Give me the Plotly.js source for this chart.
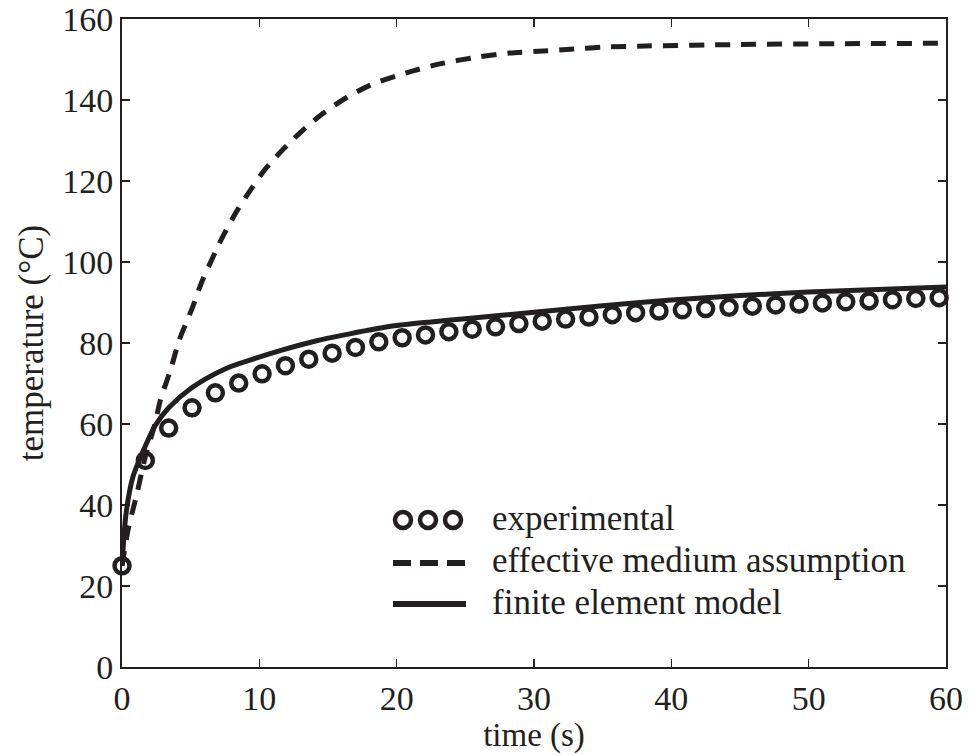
<!DOCTYPE html>
<html>
<head>
<meta charset="utf-8">
<script src="https://cdn.plot.ly/plotly-3.0.1.min.js"></script>
<style>html,body{margin:0;padding:0;background:#fff;}#chart{width:972px;height:755px;}</style>
</head>
<body>
<div id="chart"></div>
<script>
// Experimental data
const expTime = [0, 1.7, 3.4, 5.1, 6.8, 8.5, 10.2, 11.9, 13.6, 15.3, 17.0, 18.7, 20.4, 22.1, 23.8, 25.5, 27.2, 28.9, 30.6, 32.3, 34.0, 35.7, 37.4, 39.1, 40.8, 42.5, 44.2, 45.9, 47.6, 49.3, 51.0, 52.7, 54.4, 56.1, 57.8, 59.5];
const expTemp = [25, 51, 59, 64, 67.7, 70.1, 72.4, 74.4, 76.0, 77.5, 78.9, 80.3, 81.3, 82.0, 82.8, 83.4, 84.0, 84.8, 85.4, 85.9, 86.4, 87.0, 87.5, 87.9, 88.2, 88.5, 88.8, 89.1, 89.4, 89.6, 89.9, 90.2, 90.4, 90.7, 91.0, 91.2];

// Effective medium assumption
const emaTime = [0, 0.45, 1.1, 1.7, 2.4, 2.8, 3.5, 4.2, 5.1, 5.8, 6.8, 7.4, 8.4, 9.5, 10.4, 11.7, 13.0, 14.6, 16.3, 18.1, 21.2, 23.4, 25.9, 28.2, 30.7, 32.9, 35.3, 37.6, 45, 52, 60];
const emaTemp = [25, 34, 43, 52, 60, 66, 73, 81, 88.5, 95, 102.5, 106.7, 112.8, 118.5, 122.8, 127.7, 132, 136.6, 140.5, 143.7, 147.2, 149.1, 150.6, 151.6, 152.1, 152.6, 153.1, 153.3, 153.7, 153.9, 154];

// Finite element model
const femTime = [0, 0.3, 0.8, 1.5, 2.4, 3.4, 5.1, 7.5, 9.7, 11.7, 14.1, 16.5, 18.5, 20, 22.5, 25, 30, 35, 40, 45, 50, 55, 60];
const femTemp = [25, 38, 47, 53, 59.5, 64, 69, 73.6, 76.2, 78.3, 80.5, 82.2, 83.5, 84.3, 85.2, 86.0, 87.6, 89.2, 90.6, 91.7, 92.6, 93.2, 93.8];

const xTicks = [0, 10, 20, 30, 40, 50, 60];
const yTicks = [0, 20, 40, 60, 80, 100, 120, 140, 160];
const legendLabels = ['experimental', 'effective medium assumption', 'finite element model'];

const INK = '#231f20';
const FONT = '"Liberation Serif", "Times New Roman", serif';

const traces = [
  {x: femTime, y: femTemp, mode: 'lines', line: {color: INK, width: 5, shape: 'spline', smoothing: 0.8}, showlegend: false},
  {x: emaTime, y: emaTemp, mode: 'lines', line: {color: INK, width: 5, dash: '15px,11px', shape: 'spline', smoothing: 0.8}, showlegend: false},
  {x: expTime, y: expTemp, mode: 'markers', cliponaxis: false,
   marker: {symbol: 'circle-open', size: 15, color: INK, line: {width: 4.5, color: INK}}, showlegend: false}
];

// plot-area pixel bounds for legend decoration placement
const L = 122, R = 946, T = 19, B = 667;
const px = v => (v - L) / (R - L);
const py = v => (B - v) / (B - T);

const shapes = [];
[403, 428, 453].forEach(cx => {
  const r = 8;
  shapes.push({type: 'circle', xref: 'paper', yref: 'paper',
    x0: px(cx - r), x1: px(cx + r), y0: py(520 + r), y1: py(520 - r),
    line: {color: INK, width: 4.5}});
});
[[393, 411], [420, 438], [447, 465]].forEach(([a, b]) => {
  shapes.push({type: 'line', xref: 'paper', yref: 'paper', x0: px(a), x1: px(b), y0: py(563), y1: py(563),
    line: {color: INK, width: 6}});
});
shapes.push({type: 'line', xref: 'paper', yref: 'paper', x0: px(393), x1: px(466), y0: py(604), y1: py(604),
  line: {color: INK, width: 6}});

const legY = [518, 560, 602];
const annotations = legendLabels.map((t, i) => ({
  text: t, xref: 'paper', yref: 'paper', x: px(490), y: py(legY[i]),
  xanchor: 'left', yanchor: 'middle', showarrow: false,
  font: {family: FONT, size: 35, color: INK}
}));

const axisCommon = {
  showgrid: false, zeroline: false, showline: true, linecolor: INK, linewidth: 2,
  mirror: 'ticks', ticks: 'inside', ticklen: 8, tickwidth: 1.5, tickcolor: INK,
  ticklabeloverflow: 'allow',
  tickfont: {family: FONT, size: 34, color: INK}
};

const layout = {
  width: 972, height: 755,
  margin: {l: 122, r: 26, t: 19, b: 88},
  paper_bgcolor: '#fff', plot_bgcolor: '#fff',
  font: {family: FONT, color: INK},
  xaxis: Object.assign({}, axisCommon, {
    range: [0, 60], tickvals: xTicks, ticktext: xTicks.map(String),
    title: {text: 'time (s)', font: {family: FONT, size: 33, color: INK}, standoff: 0}
  }),
  yaxis: Object.assign({}, axisCommon, {
    range: [0, 160], tickvals: yTicks, ticktext: yTicks.map(String),
    title: {text: 'temperature (°C)', font: {family: FONT, size: 35, color: INK}, standoff: 8}
  }),
  shapes: shapes,
  annotations: annotations,
  showlegend: false
};

Plotly.newPlot('chart', traces, layout, {displayModeBar: false, staticPlot: true});
</script>
</body>
</html>
